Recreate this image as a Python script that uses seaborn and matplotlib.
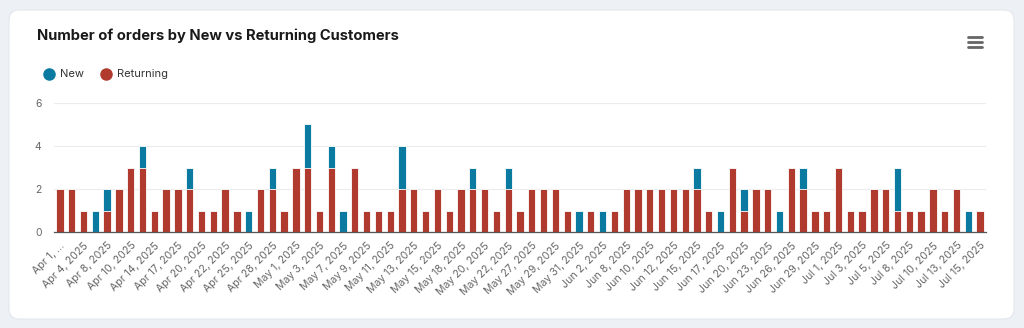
import matplotlib
matplotlib.use("Agg")
import matplotlib.pyplot as plt
from matplotlib.patches import FancyBboxPatch
from matplotlib.lines import Line2D
from matplotlib.transforms import IdentityTransform
import seaborn as sns
import pandas as pd

# ---- data ----
dates = [
    "Apr 1, 2025", "Apr 2, 2025", "Apr 4, 2025", "Apr 7, 2025", "Apr 8, 2025", "Apr 9, 2025",
    "Apr 10, 2025", "Apr 11, 2025", "Apr 14, 2025", "Apr 15, 2025", "Apr 17, 2025", "Apr 18, 2025",
    "Apr 20, 2025", "Apr 21, 2025", "Apr 22, 2025", "Apr 23, 2025", "Apr 25, 2025", "Apr 26, 2025",
    "Apr 28, 2025", "Apr 29, 2025", "May 1, 2025", "May 2, 2025", "May 3, 2025", "May 5, 2025",
    "May 7, 2025", "May 8, 2025", "May 9, 2025", "May 10, 2025", "May 11, 2025", "May 12, 2025",
    "May 13, 2025", "May 14, 2025", "May 15, 2025", "May 16, 2025", "May 18, 2025", "May 19, 2025",
    "May 20, 2025", "May 21, 2025", "May 22, 2025", "May 23, 2025", "May 27, 2025", "May 28, 2025",
    "May 29, 2025", "May 30, 2025", "May 31, 2025", "Jun 1, 2025", "Jun 2, 2025", "Jun 4, 2025",
    "Jun 8, 2025", "Jun 9, 2025", "Jun 10, 2025", "Jun 11, 2025", "Jun 12, 2025", "Jun 13, 2025",
    "Jun 15, 2025", "Jun 16, 2025", "Jun 17, 2025", "Jun 18, 2025", "Jun 20, 2025", "Jun 21, 2025",
    "Jun 23, 2025", "Jun 24, 2025", "Jun 26, 2025", "Jun 27, 2025", "Jun 29, 2025", "Jun 30, 2025",
    "Jul 1, 2025", "Jul 2, 2025", "Jul 3, 2025", "Jul 4, 2025", "Jul 5, 2025", "Jul 7, 2025",
    "Jul 8, 2025", "Jul 9, 2025", "Jul 10, 2025", "Jul 11, 2025", "Jul 13, 2025", "Jul 14, 2025",
    "Jul 15, 2025",
]
returning = [2, 2, 1, 0, 1, 2, 3, 3, 1, 2,
             2, 2, 1, 1, 2, 1, 0, 2, 2, 1,
             3, 3, 1, 3, 0, 3, 1, 1, 1, 2,
             2, 1, 2, 1, 2, 2, 2, 1, 2, 1,
             2, 2, 2, 1, 0, 1, 0, 1, 2, 2,
             2, 2, 2, 2, 2, 1, 0, 3, 1, 2,
             2, 0, 3, 2, 1, 1, 3, 1, 1, 2,
             2, 1, 1, 1, 2, 1, 2, 0, 1]
new = [0, 0, 0, 1, 1, 0, 0, 1, 0, 0,
       0, 1, 0, 0, 0, 0, 1, 0, 1, 0,
       0, 2, 0, 1, 1, 0, 0, 0, 0, 2,
       0, 0, 0, 0, 0, 1, 0, 0, 1, 0,
       0, 0, 0, 0, 1, 0, 1, 0, 0, 0,
       0, 0, 0, 0, 1, 0, 1, 0, 1, 0,
       0, 1, 0, 1, 0, 0, 0, 0, 0, 0,
       0, 2, 0, 0, 0, 0, 0, 1, 0]
series_names = ["New", "Returning"]
y_ticks = [0, 2, 4, 6]
title = "Number of orders by New vs Returning Customers"

COL_NEW = "#0b7aa1"
COL_RET = "#b13a2f"

df = pd.DataFrame({"date": dates, "New": new, "Returning": returning})
df["Total"] = df["New"] + df["Returning"]

W, H = 1024, 328
sns.set_theme(style="white")
plt.rcParams["font.family"] = ["Inter", "DejaVu Sans"]

fig = plt.figure(figsize=(W / 100, H / 100), dpi=100)
fig.patch.set_facecolor("#edf0f5")

# card
card = FancyBboxPatch((9, 9), 1005, 309, boxstyle="round,pad=0,rounding_size=10",
                      transform=IdentityTransform(), facecolor="white",
                      edgecolor="#e3e6ec", linewidth=0.8, zorder=0)
fig.add_artist(card)

ax = fig.add_axes([54 / W, (H - 232) / H, 932 / W, 129 / H])
ax.set_facecolor("none")

# stacked bars: total (New colour) with Returning drawn over the bottom part
sns.barplot(data=df, x="date", y="Total", color=COL_NEW, saturation=1, width=0.62,
            edgecolor="white", linewidth=0.6, ax=ax, zorder=3)
sns.barplot(data=df, x="date", y="Returning", color=COL_RET, saturation=1, width=0.62,
            edgecolor="white", linewidth=0.6, ax=ax, zorder=4)

ax.set_xlim(-0.5, len(dates) - 0.5)
ax.set_ylim(0, 6)
ax.set_yticks(y_ticks)
ax.set_yticklabels([str(v) for v in y_ticks], color="#666666", fontsize=7.5)
ax.grid(axis="y", color="#ececec", linewidth=0.8, zorder=0)
ax.set_axisbelow(True)

pos = list(range(0, len(dates), 2))
labels = [dates[i] for i in pos]
labels[0] = "Apr 1, ..."
ax.set_xticks(pos)
ax.set_xticklabels(labels, rotation=45, ha="right", rotation_mode="anchor",
                   color="#666666", fontsize=7.6)
ax.tick_params(axis="both", length=0)
ax.tick_params(axis="x", pad=6)
ax.tick_params(axis="y", pad=9)
ax.set_xlabel("")
ax.set_ylabel("")
for s in ["top", "right", "left"]:
    ax.spines[s].set_visible(False)
ax.spines["bottom"].set_color("#555555")
ax.spines["bottom"].set_linewidth(0.9)
ax.spines["bottom"].set_zorder(6)

# title
fig.text(37 / W, 1 - 36 / H, title, fontsize=10.6, fontweight="bold", color="#1a1a1a",
         va="center", ha="left")

# legend
for cx, tx, col, name in [(49, 60, COL_NEW, series_names[0]), (106, 117, COL_RET, series_names[1])]:
    fig.add_artist(Line2D([cx / W], [1 - 74 / H], marker="o", markersize=8,
                          color=col, linestyle="none", transform=fig.transFigure))
    fig.text(tx / W, 1 - 74 / H, name, fontsize=8, color="#333333", va="center", ha="left")

# menu icon
for yy in (37, 42, 47):
    fig.add_artist(Line2D([968 / W, 982 / W], [1 - yy / H, 1 - yy / H], color="#666666",
                          linewidth=2, transform=fig.transFigure))

fig.savefig("out.png", dpi=100, facecolor=fig.get_facecolor())
